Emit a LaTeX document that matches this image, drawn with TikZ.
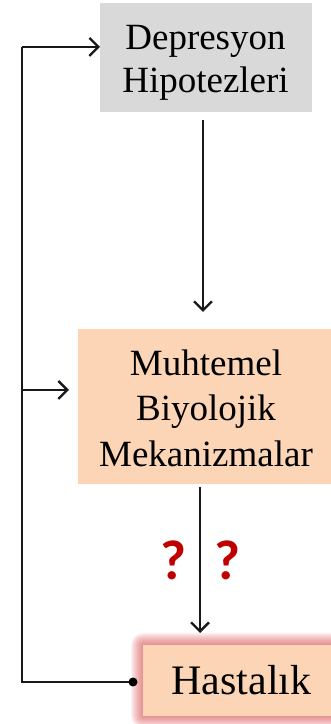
\documentclass[tikz,border=0pt]{standalone}
\usepackage{fontspec}
\setmainfont{Liberation Serif}
\newfontfamily\qfont{Carlito}
\usetikzlibrary{arrows.meta,backgrounds,calc}
\definecolor{boxgray}{HTML}{D9D9D9}
\definecolor{peach}{HTML}{FBD5B5}
\definecolor{qred}{HTML}{C00000}
\definecolor{glowred}{HTML}{D84A4A}
\tikzset{
  conn/.style={line width=2.3pt, draw=black!90},
  arr/.style={conn, -{Straight Barb[length=9pt,width=18pt,line width=2.3pt]}},
  box/.style={inner sep=0pt, outer sep=0pt},
  txt/.style={inner sep=0pt, align=center, text=black},
  qmark/.style={text=qred, font=\qfont\bfseries\fontsize{56}{56}\selectfont, inner sep=0pt}
}
\begin{document}
\begin{tikzpicture}[x=1pt,y=1pt]
\useasboundingbox (0,0) rectangle (331,724);
% boxes
\node[box, fill=boxgray, minimum width=212pt, minimum height=109pt] (hyp) at (206,666.5) {};
\node[txt, font=\fontsize{37}{43}\selectfont] (hypt) at (205.5,661) {Depresyon\\Hipotezleri};
\node[box, fill=peach, minimum width=253pt, minimum height=155pt] (mech) at (204.5,317.5) {};
\node[txt, font=\fontsize{37}{45.5}\selectfont] (mecht) at (206,316) {Muhtemel\\Biyolojik\\Mekanizmalar};
\node[box, fill=peach, minimum width=188pt, minimum height=71pt] (dis) at (237,43.5) {};
\node[txt, font=\fontsize{42}{42}\selectfont] (dist) at (241.5,43.5) {Hastalık};
\begin{scope}[on background layer]
  \foreach \r in {1,...,12}
    \fill[glowred, opacity=0.07, rounded corners=\r pt]
      ([shift={(-\r pt,-\r pt)}]dis.south west) rectangle ([shift={(\r pt,\r pt)}]dis.north east);
\end{scope}
% coordinates
\coordinate (tl) at (22,677);
\coordinate (ml) at (22,334);
\coordinate (bl) at (22,42);
\coordinate (dot) at (133,42);
\coordinate (t1) at (203,604);
\coordinate (t2) at (200,237);
% main arrows
\draw[arr] (hyp.south -| t1) ++(0,-8) -- (203,412);
\draw[arr] (mech.south -| t2) ++(0,-3) -- (200,91);
% feedback
\draw[conn] (dot) -- (bl) -- (tl);
\draw[arr] (tl) -- (tl -| hyp.west);
\draw[arr] (ml) -- ([xshift=-9pt]ml -| mech.west);
\fill (dot) circle (4.5pt);
% question marks
\node[qmark] (q1) at (173,164) {?};
\node[qmark] (q2) at (227,164) {?};
\end{tikzpicture}
\end{document}
